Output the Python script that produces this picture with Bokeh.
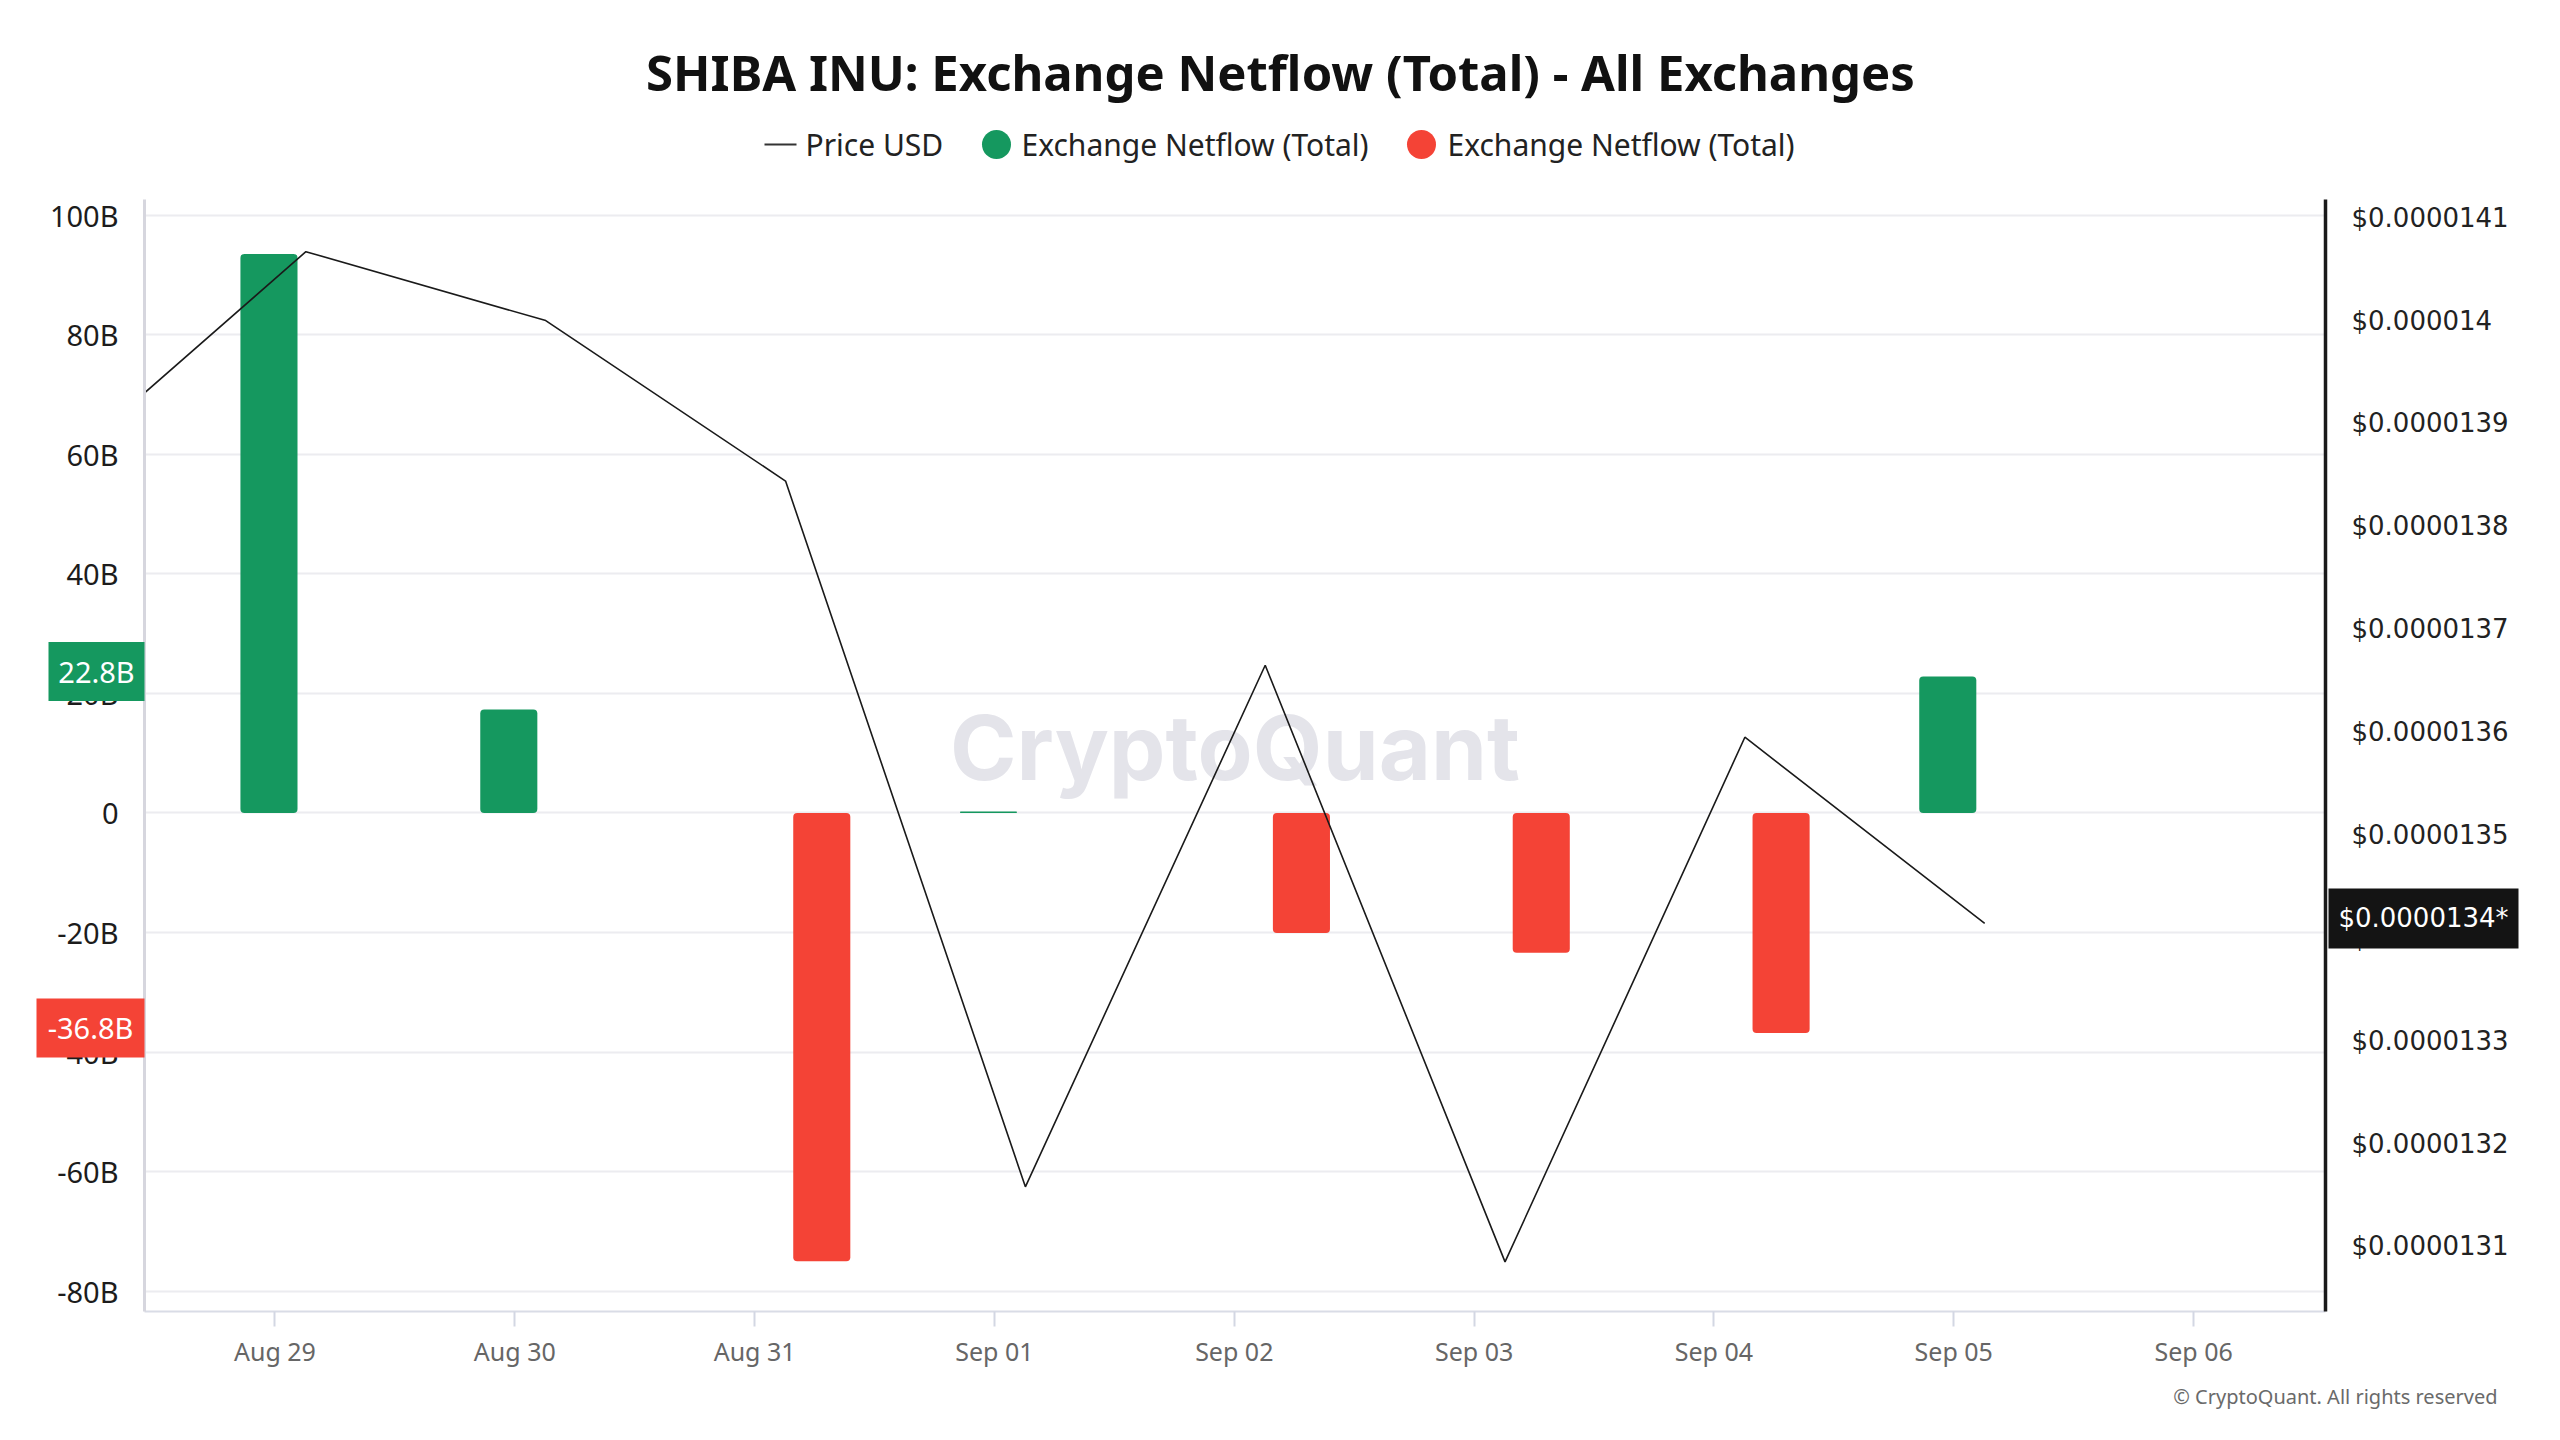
import pandas as pd
from bokeh.plotting import figure
from bokeh.models import (Range1d, LinearAxis, FixedTicker, CustomJSTickFormatter)
from bokeh.layouts import column
from bokeh.embed import file_html
from bokeh.resources import INLINE
from bokeh.core.properties import value

# ---------------- data ----------------
title_text = "SHIBA INU: Exchange Netflow (Total) - All Exchanges"
legend_labels = ["Price USD", "Exchange Netflow (Total)", "Exchange Netflow (Total)"]
tick_dates = ["Aug 29", "Aug 30", "Aug 31", "Sep 01", "Sep 02", "Sep 03", "Sep 04", "Sep 05", "Sep 06"]
flow_dates = ["Aug 29", "Aug 30", "Aug 31", "Sep 01", "Sep 02", "Sep 03", "Sep 04", "Sep 05"]
netflow_b = [93.5, 17.3, -75.0, 0.25, -20.1, -23.4, -36.8, 22.8]          # billions SHIB
price_dates = ["Aug 28", "Aug 29", "Aug 30", "Aug 31", "Sep 01", "Sep 02", "Sep 03", "Sep 04", "Sep 05"]
price_usd = [0.000013863, 0.000014067, 0.000014000, 0.000013844, 0.000013158,
             0.000013665, 0.000013085, 0.000013595, 0.000013414]
left_ticks = [-80, -60, -40, -20, 0, 20, 40, 60, 80, 100]
price_ticks = [0.0000131, 0.0000132, 0.0000133, 0.0000134, 0.0000135, 0.0000136,
               0.0000137, 0.0000138, 0.0000139, 0.0000140, 0.0000141]
watermark = "CryptoQuant"
copyright_text = "\u00a9 CryptoQuant. All rights reserved"

# ---------------- styling / layout ----------------
GREEN = "#15985f"
RED = "#f44336"
W = 2560
HEADER_H = 178
MAIN_H = 1258
FRAME_H = 1112
B_LEFT, B_RIGHT, B_TOP = 144, 235, 21
B_BOTTOM = MAIN_H - B_TOP - FRAME_H
FRAME_W = W - B_LEFT - B_RIGHT
BAR_W = 0.238
GREEN_SHIFT = -0.025
RED_SHIFT = 0.28
PRICE_SHIFT = 0.129
TAG_LIFT = 5   # px, value tags sit slightly above their exact value


def day_index(lbl):
    base = pd.Timestamp("2024-08-29")
    return (pd.to_datetime(lbl + " 2024", format="%b %d %Y") - base).days


flow_x = [day_index(d) for d in flow_dates]
price_x = [day_index(d) + PRICE_SHIFT for d in price_dates]
tick_x = [day_index(d) for d in tick_dates]

pos = [(x + GREEN_SHIFT, v) for x, v in zip(flow_x, netflow_b) if v > 0]
neg = [(x + RED_SHIFT, v) for x, v in zip(flow_x, netflow_b) if v < 0]

# ---------------- header (title + legend) ----------------
# frames of a column are aligned, so the header frame spans the same x as the main frame
h = figure(width=W, height=HEADER_H, x_range=Range1d(B_LEFT, W - B_RIGHT),
           y_range=Range1d(0, HEADER_H), output_backend="svg", toolbar_location=None,
           min_border=0, min_border_left=B_LEFT, min_border_right=B_RIGHT,
           x_axis_type=None, y_axis_type=None)
h.grid.visible = False
h.outline_line_color = None

h.text(x=[W / 2], y=[107], text=[title_text], text_font=value("Noto Sans"),
       text_font_style="bold", text_font_size="49px", text_align="center",
       text_baseline="middle", text_color="#111111")

LEG_Y = 34
h.segment(x0=[764], y0=[LEG_Y], x1=[796], y1=[LEG_Y], line_color="#333333", line_width=2)
h.scatter(x=[996, 1421], y=[LEG_Y, LEG_Y], size=29, marker="circle",
          fill_color=[GREEN, RED], line_color=None)
h.text(x=[805, 1021, 1447], y=[LEG_Y] * 3, text=legend_labels,
       text_font=value("Noto Sans"), text_font_size="30px", text_align="left",
       text_baseline="middle", text_color="#222222")

# ---------------- main chart ----------------
p = figure(width=W, height=MAIN_H, output_backend="svg", toolbar_location=None,
           x_range=Range1d(-0.544, 8.55), y_range=Range1d(-83.4, 102.6),
           min_border_left=B_LEFT, min_border_right=B_RIGHT, min_border_top=B_TOP,
           min_border_bottom=B_BOTTOM)
p.outline_line_color = None
p.xgrid.visible = False
p.ygrid.ticker = FixedTicker(ticks=left_ticks)
p.ygrid.grid_line_color = "#ececf0"
p.ygrid.grid_line_width = 2

price_range = Range1d(1.30368e-5, 1.41177e-5)
p.extra_y_ranges = {"price": price_range}

x0, x1 = p.x_range.start, p.x_range.end
y0, y1 = p.y_range.start, p.y_range.end
px_day = FRAME_W / (x1 - x0)
px_b = FRAME_H / (y1 - y0)
px_price = FRAME_H / (price_range.end - price_range.start)

# watermark
wm_x = (x0 + x1) / 2
wm_y = y0 + 0.507 * (y1 - y0)
p.text(x=[wm_x], y=[wm_y], text=[watermark], text_font=value("Inter"),
       text_font_style="bold", text_font_size="90px", text_align="center",
       text_baseline="middle", text_color="#e4e4ea")

# bars
p.vbar(x=[a for a, _ in pos], top=[b for _, b in pos], bottom=0, width=BAR_W,
       fill_color=GREEN, line_color=None, border_radius=4)
p.vbar(x=[a for a, _ in neg], top=0, bottom=[b for _, b in neg], width=BAR_W,
       fill_color=RED, line_color=None, border_radius=4)

# price line
p.line(x=price_x, y=price_usd, y_range_name="price", line_color="#1a1a1a", line_width=1.6)

# left axis
ly = p.yaxis[0]
ly.ticker = FixedTicker(ticks=left_ticks)
ly.formatter = CustomJSTickFormatter(code="return tick == 0 ? '0' : tick + 'B';")
ly.major_tick_line_color = None
ly.minor_tick_line_color = None
ly.major_tick_out = 0
ly.major_tick_in = 0
ly.major_label_standoff = 26
ly.axis_line_color = "#d6d6de"
ly.axis_line_width = 3
ly.major_label_text_font = "Noto Sans"
ly.major_label_text_font_size = "29px"
ly.major_label_text_color = "#1c1c1c"

# right axis
ry = LinearAxis(y_range_name="price")
ry.ticker = FixedTicker(ticks=price_ticks)
ry.formatter = CustomJSTickFormatter(code="return '$' + parseFloat(tick.toPrecision(3)).toString();")
ry.major_tick_line_color = None
ry.minor_tick_line_color = None
ry.major_tick_out = 0
ry.major_tick_in = 0
ry.major_label_standoff = 26
ry.axis_line_color = "#1a1a1a"
ry.axis_line_width = 3.5
ry.major_label_text_font = "DejaVu Sans"
ry.major_label_text_font_size = "26px"
ry.major_label_text_color = "#222222"
p.add_layout(ry, "right")

# x axis
xa = p.xaxis[0]
xa.ticker = FixedTicker(ticks=tick_x)
xa.major_label_overrides = {x: lbl for x, lbl in zip(tick_x, tick_dates)}
xa.major_tick_out = 15
xa.major_tick_in = 0
xa.major_tick_line_color = "#d3d7e3"
xa.major_tick_line_width = 2
xa.minor_tick_line_color = None
xa.axis_line_color = "#d9dce6"
xa.axis_line_width = 2
xa.major_label_standoff = 7
xa.major_label_text_font = "Noto Sans"
xa.major_label_text_font_size = "25px"
xa.major_label_text_color = "#666666"

# value tags on the axes (drawn at annotation level so they are not clipped to the frame)
last_green = [v for v in netflow_b if v > 0][-1]
last_red = [v for v in netflow_b if v < 0][-1]
for v, col, bw in [(last_green, GREEN, 96), (last_red, RED, 108)]:
    cx = x0 - (bw / 2) / px_day
    cy = v + TAG_LIFT / px_b
    p.rect(x=[cx], y=[cy], width=bw, height=59, width_units="screen", height_units="screen",
           fill_color=col, line_color=None, level="annotation")
    p.text(x=[cx], y=[cy], text=[f"{v:.1f}B"], text_align="center", text_baseline="middle",
           text_color="white", text_font=value("Noto Sans"), text_font_size="29px",
           level="annotation")

pw = 190
pcx = x1 + (3 + pw / 2) / px_day
pcy = price_usd[-1] + TAG_LIFT / px_price
p.rect(x=[pcx], y=[pcy], width=pw, height=60, width_units="screen",
       height_units="screen", y_range_name="price", fill_color="#141414", line_color=None,
       level="annotation")
p.text(x=[pcx], y=[pcy], text=[f"${price_usd[-1]:.7f}*"], y_range_name="price",
       text_align="center", text_baseline="middle", text_color="white",
       text_font=value("DejaVu Sans"), text_font_size="26px", level="annotation")

# copyright line under the x axis
p.text(x=[x0 + (2497 - B_LEFT) / px_day], y=[y0 - 85 / px_b], text=[copyright_text],
       text_align="right", text_baseline="middle", text_color="#6a6a6a",
       text_font=value("Noto Sans"), text_font_size="20px", level="annotation")

layout = column(h, p, spacing=0)
open("out.html", "w").write(file_html(layout, INLINE))
